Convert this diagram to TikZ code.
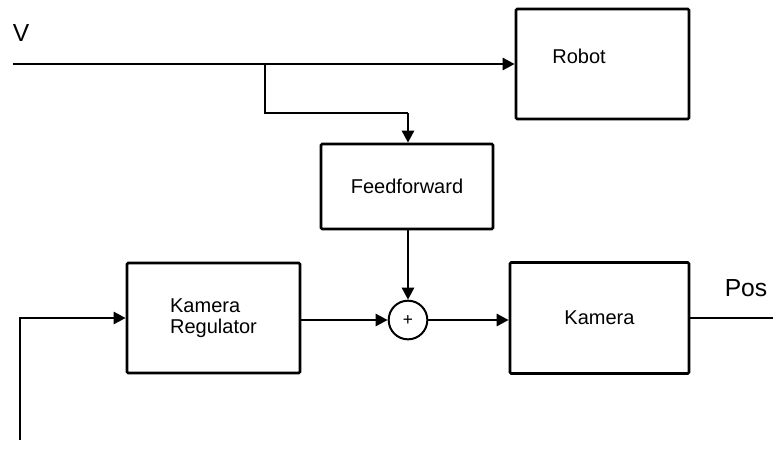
\documentclass[tikz,border=0pt]{standalone}
\usepackage{fontspec}
\setmainfont{Liberation Sans}
\usetikzlibrary{arrows.meta}

\tikzset{
  block/.style={draw,line width=2pt,rounded corners=1pt,inner sep=0pt},
  sumnode/.style={draw,circle,line width=1.5pt,minimum size=29pt,inner sep=0pt},
  sig/.style={line width=2pt},
  sigarrow/.style={sig,-{Triangle[length=9pt,width=9pt]}},
  blocktext/.style={font=\fontsize{15}{16}\selectfont,align=left},
  bigtext/.style={font=\fontsize{18.5}{20}\selectfont}
}

\begin{document}
\begin{tikzpicture}[x=0.75pt,y=-0.75pt]
\useasboundingbox (0,0) rectangle (773,455);

\node[block,minimum width=129.75pt,minimum height=82.5pt] (robot) at (602.5,64) {};
\node[blocktext] (robotlbl) at (579,56) {Robot};
\node[block,blocktext,minimum width=129pt,minimum height=63.75pt] (ff) at (407,186.5) {Feedforward};
\node[block,blocktext,minimum width=129.75pt,minimum height=82.5pt] (kreg) at (213.5,318) {Kamera\\Regulator};
\node[sumnode] (sum) at (408,320) {\fontsize{13}{14}\selectfont +};
\node[block,blocktext,minimum width=134.25pt,minimum height=83.25pt] (kam) at (599.5,318) {Kamera};

\node[bigtext] (vlbl) at (21,33) {V};
\node[bigtext] (poslbl) at (746,288) {Pos};

\coordinate (vin) at (13,64);
\coordinate (split) at (265,64);
\coordinate (bend) at (408,113);
\coordinate (fbin) at (20,440);
\coordinate (posout) at (773,318);

% signal V
\draw[sigarrow] (vin) -- (robot.west);
\draw[sig] (split) |- (bend);
\draw[sigarrow] (bend) -- (bend |- ff.north);

% inner loop
\draw[sigarrow] (sum |- ff.south) -- (sum.north);
\draw[sigarrow] (kreg.east |- sum) -- (sum.west);
\draw[sigarrow] (sum.east) -- (kam.west |- sum);
\draw[sig] (kam.east) -- (posout);
\draw[sigarrow] (fbin) |- (kreg.west);
\end{tikzpicture}
\end{document}
